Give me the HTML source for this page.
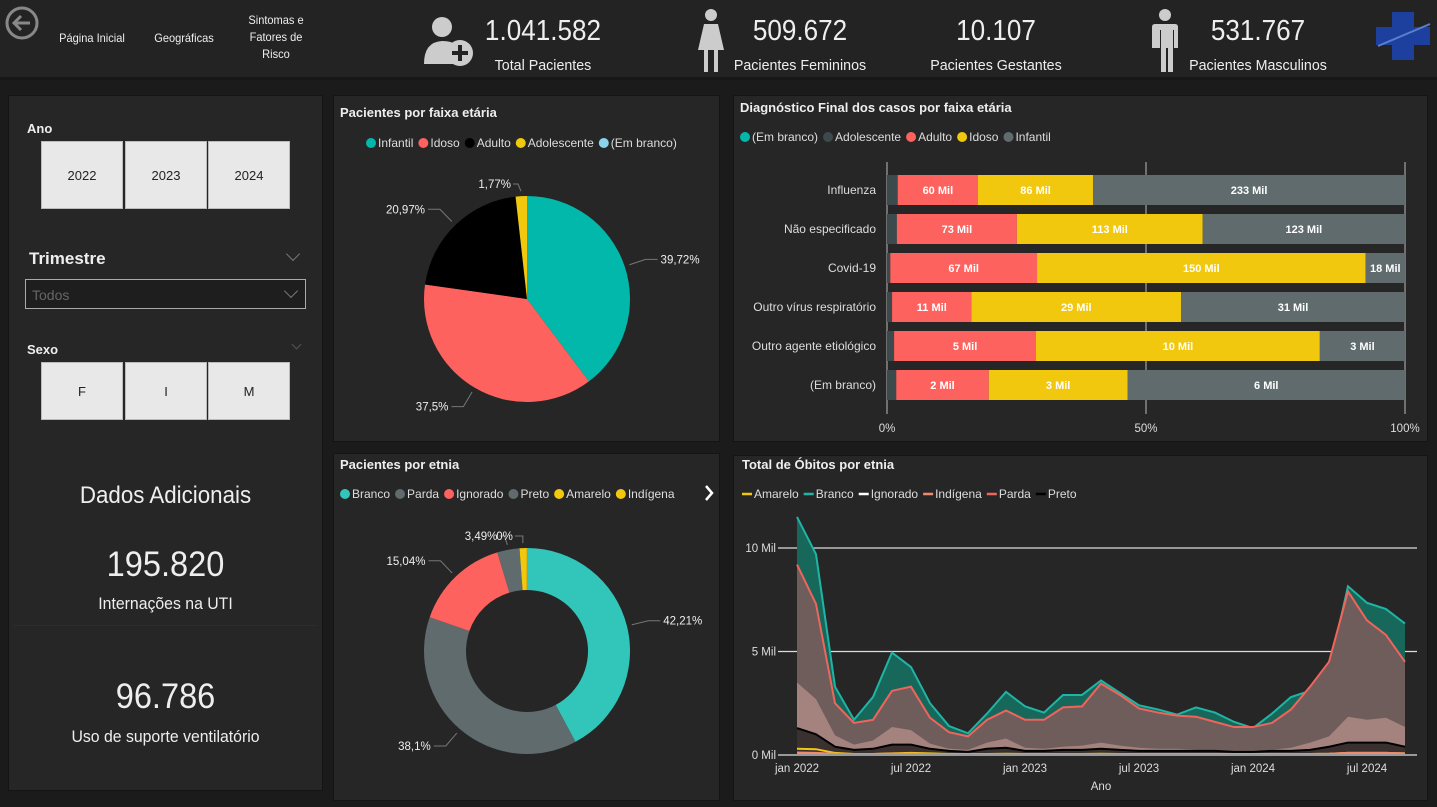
<!DOCTYPE html>
<html><head><meta charset="utf-8">
<style>
*{box-sizing:border-box;margin:0;padding:0}
body{width:1437px;height:807px;background:#1b1b1b;font-family:"Liberation Sans Narrow","Liberation Sans",sans-serif;color:#fff;position:relative;overflow:hidden}
.abs{position:absolute}
.panel{position:absolute;background:#262626;border:1px solid #141414}
.title{position:absolute;font-family:"Liberation Sans",sans-serif;font-weight:bold;font-size:13px;color:#eee}
.btn{position:absolute;background:#e8e8e8;color:#222;font-family:"Liberation Sans",sans-serif;font-size:13px;display:flex;align-items:center;justify-content:center;border:1px solid #bbb}
.kv{position:absolute;text-align:center;font-size:29px;color:#eee;transform:scaleX(0.9)}
.kl{position:absolute;text-align:center;font-size:15px;color:#eee;transform:scaleX(0.95)}
.nav{position:absolute;font-size:12px;color:#eee;text-align:center;line-height:17px;transform:scaleX(0.92)}
.sq{transform:scaleX(0.93)}
</style></head><body>
<div class="abs" style="left:0;top:0;width:1437px;height:80px;background:#232323;border-bottom:3px solid #171717"></div>
<svg class="abs" style="left:4px;top:5px" width="36" height="36"><circle cx="18" cy="18" r="15" fill="none" stroke="#888" stroke-width="3"/><path d="M26 18H11M17 11l-7 7 7 7" fill="none" stroke="#888" stroke-width="3"/></svg>
<div class="nav" style="left:52px;top:30px;width:80px">Página Inicial</div>
<div class="nav" style="left:145px;top:30px;width:78px">Geográficas</div>
<div class="nav" style="left:236px;top:12px;width:80px">Sintomas e Fatores de Risco</div>
<svg class="abs" style="left:422px;top:14px" width="52" height="54"><circle cx="20" cy="13" r="10" fill="#ccc"/><path d="M2 50 Q2 28 20 27 Q32 27 36 33 L36 50Z" fill="#ccc"/><circle cx="38" cy="39" r="13" fill="#ccc"/><path d="M38 31v16M30 39h16" stroke="#232323" stroke-width="4"/></svg>
<div class="kv" style="left:463px;top:15px;width:160px">1.041.582</div>
<div class="kl" style="left:463px;top:57px;width:160px">Total Pacientes</div>
<svg class="abs" style="left:696px;top:8px" width="30" height="66"><circle cx="15" cy="7" r="6" fill="#ccc"/><path d="M8 16h14l6 26h-6l0 22h-4v-22h-6v22h-4v-22H2Z" fill="#ccc"/></svg>
<div class="kv" style="left:720px;top:15px;width:160px">509.672</div>
<div class="kl" style="left:720px;top:57px;width:160px">Pacientes Femininos</div>
<div class="kv" style="left:916px;top:15px;width:160px">10.107</div>
<div class="kl" style="left:916px;top:57px;width:160px">Pacientes Gestantes</div>
<svg class="abs" style="left:1150px;top:8px" width="30" height="66"><circle cx="15" cy="7" r="6" fill="#ccc"/><path d="M5 16h20q3 0 3 3v21h-4v-18h-1v42h-5v-24h-2v24h-5v-42h-1v18H2V19q0-3 3-3Z" fill="#ccc"/></svg>
<div class="kv" style="left:1178px;top:15px;width:160px">531.767</div>
<div class="kl" style="left:1178px;top:57px;width:160px">Pacientes Masculinos</div>
<svg class="abs" style="left:1374px;top:10px" width="58" height="52"><path d="M18 2h22v15h16v18H40v15H18V35H2V17h16Z" fill="#1d3f9e"/><path d="M4 36 L56 14" stroke="#5a7fd0" stroke-width="2"/></svg>

<div class="panel" style="left:8px;top:95px;width:315px;height:696px"></div>
<div class="title" style="left:27px;top:121px">Ano</div>
<div class="btn" style="left:41px;top:141px;width:82px;height:68px">2022</div>
<div class="btn" style="left:125px;top:141px;width:82px;height:68px">2023</div>
<div class="btn" style="left:208px;top:141px;width:82px;height:68px">2024</div>
<div class="abs" style="left:29px;top:249px;font-family:'Liberation Sans',sans-serif;font-weight:bold;font-size:17px;color:#eee">Trimestre</div>
<div class="abs" style="left:288px;top:249px;width:10px;height:10px;border-right:1px solid #777;border-bottom:1px solid #777;transform:rotate(45deg)"></div>
<div class="abs" style="left:25px;top:279px;width:281px;height:30px;border:1px solid #aaa;background:#1e1e1e;font-family:'Liberation Sans',sans-serif;font-size:14px;color:#666;padding:7px 6px">Todos</div>
<div class="abs" style="left:286px;top:286px;width:10px;height:10px;border-right:1px solid #777;border-bottom:1px solid #777;transform:rotate(45deg)"></div>
<div class="title" style="left:27px;top:342px">Sexo</div>
<div class="abs" style="left:293px;top:341px;width:7px;height:7px;border-right:1px solid #555;border-bottom:1px solid #555;transform:rotate(45deg)"></div>
<div class="btn" style="left:41px;top:362px;width:82px;height:58px">F</div>
<div class="btn" style="left:125px;top:362px;width:82px;height:58px">I</div>
<div class="btn" style="left:208px;top:362px;width:82px;height:58px">M</div>
<div class="abs sq" style="left:10px;top:482px;width:311px;text-align:center;font-size:24px;color:#eee">Dados Adicionais</div>
<div class="abs sq" style="left:10px;top:545px;width:311px;text-align:center;font-size:35px;color:#eee">195.820</div>
<div class="abs sq" style="left:10px;top:594px;width:311px;text-align:center;font-size:17px;color:#eee">Internações na UTI</div>
<div class="abs" style="left:14px;top:625px;width:303px;height:1px;background:#2d2d2d"></div>
<div class="abs sq" style="left:10px;top:677px;width:311px;text-align:center;font-size:35px;color:#eee">96.786</div>
<div class="abs sq" style="left:10px;top:727px;width:311px;text-align:center;font-size:17px;color:#eee">Uso de suporte ventilatório</div>

<div class="panel" style="left:333px;top:95px;width:387px;height:347px"></div>
<div class="title" style="left:340px;top:105px">Pacientes por faixa etária</div>
<div class="panel" style="left:333px;top:453px;width:387px;height:348px"></div>
<div class="title" style="left:340px;top:457px">Pacientes por etnia</div>
<div class="panel" style="left:733px;top:95px;width:695px;height:347px"></div>
<div class="title" style="left:740px;top:100px">Diagnóstico Final dos casos por faixa etária</div>
<div class="panel" style="left:733px;top:455px;width:695px;height:346px"></div>
<div class="title" style="left:742px;top:457px">Total de Óbitos por etnia</div>

<svg id="chart" class="abs" style="left:0;top:0" width="1437" height="807"></svg>

<script>
const pieCats=["Infantil","Idoso","Adulto","Adolescente","(Em branco)"];
const pieVals=[39.72,37.5,20.97,1.77,0];
const pieLabels=["39,72%","37,5%","20,97%","1,77%",""];
const donutCats=["Branco","Parda","Ignorado","Preto","Amarelo","Indígena"];
const donutVals=[42.21,38.1,15.04,3.49,1.1,0.06];
const donutLabels=["42,21%","38,1%","15,04%","3,49%","0%",""];
const barCats=["Influenza","Não especificado","Covid-19","Outro vírus respiratório","Outro agente etiológico","(Em branco)"];
const barAdol=[8,6,1.5,0.7,0.25,0.2];
const barAdulto=[60,73,67,11,5,2];
const barIdoso=[86,113,150,29,10,3];
const barInfantil=[233,123,18,31,3,6];
const barTicks=["0%","50%","100%"];
const months=["jan 2022","fev","mar","abr","mai","jun","jul 2022","ago","set","out","nov","dez","jan 2023","fev","mar","abr","mai","jun","jul 2023","ago","set","out","nov","dez","jan 2024","fev","mar","abr","mai","jun","jul 2024","ago","set"];
const branco=[11.5,9.7,3.3,1.7,2.8,4.95,4.25,2.5,1.4,1.05,2.0,3.05,2.35,2.05,2.9,2.9,3.6,3.0,2.4,2.2,1.95,2.3,2.05,1.6,1.3,2.0,2.8,3.1,4.1,8.15,7.35,7.05,6.35];
const parda=[9.2,7.3,2.5,1.55,1.7,3.1,3.3,1.8,1.1,0.9,1.7,2.15,1.7,1.7,2.3,2.35,3.45,2.9,2.25,2.05,1.9,1.85,1.6,1.35,1.35,1.55,2.2,3.3,4.5,7.9,6.5,5.8,4.5];
const ignorado=[3.5,2.7,0.95,0.5,0.7,1.35,1.2,0.55,0.3,0.25,0.6,0.8,0.35,0.3,0.4,0.45,0.6,0.45,0.35,0.3,0.3,0.25,0.2,0.15,0.2,0.25,0.35,0.6,0.9,1.85,1.7,1.8,1.35];
const preto=[1.3,1.0,0.4,0.25,0.3,0.5,0.5,0.3,0.2,0.15,0.3,0.35,0.2,0.2,0.25,0.25,0.3,0.25,0.2,0.2,0.2,0.2,0.2,0.15,0.15,0.2,0.2,0.25,0.4,0.6,0.6,0.6,0.4];
const amarelo=[0.3,0.28,0.1,0.05,0.05,0.08,0.1,0.08,0.05,0.05,0.05,0.06,0.05,0.05,0.05,0.05,0.06,0.05,0.05,0.05,0.05,0.05,0.05,0.05,0.05,0.05,0.05,0.05,0.06,0.1,0.1,0.1,0.08];
const indigena=[0.12,0.1,0.06,0.05,0.05,0.06,0.06,0.05,0.04,0.04,0.05,0.05,0.04,0.04,0.05,0.05,0.05,0.05,0.04,0.04,0.04,0.04,0.04,0.04,0.04,0.04,0.05,0.05,0.06,0.1,0.1,0.1,0.08];
const areaTicks=[0,5,10];
const areaTickLabels=["0 Mil","5 Mil","10 Mil"];

const svg=document.getElementById('chart');
const NS="http://www.w3.org/2000/svg";
function mk(tag,attrs,parent){const e=document.createElementNS(NS,tag);for(const k in attrs)e.setAttribute(k,attrs[k]);(parent||svg).appendChild(e);return e;}
function txt(x,y,s,size,fill,anchor,weight){const t=mk('text',{x:x,y:y,'font-size':size,fill:fill,'text-anchor':anchor||'start','font-family':'"Liberation Sans Narrow","Liberation Sans",sans-serif','font-weight':weight||'normal'});t.textContent=s;return t;}
function legend(x,y,items,colors,name,size){let cx=x;items.forEach((it,i)=>{const c=mk('circle',{cx:cx+5,cy:y-4,r:5,fill:colors[i]});


const t=txt(cx+12,y,it,size||12,'#ddd');


cx+=12+t.getComputedTextLength()+5;});}

const pieColors=["#01b8aa","#fd625e","#000000","#f2c80f","#8ad4eb"];
legend(366,147,pieCats,pieColors,'age-legend',12);
function arc(cx,cy,r,ri,a0,a1){const p=(a,rr)=>[cx+rr*Math.sin(a),cy-rr*Math.cos(a)];const lg=(a1-a0)>Math.PI?1:0;const [x0,y0]=p(a0,r),[x1,y1]=p(a1,r);
if(ri<=0)return `M${cx} ${cy}L${x0} ${y0}A${r} ${r} 0 ${lg} 1 ${x1} ${y1}Z`;
const [x2,y2]=p(a1,ri),[x3,y3]=p(a0,ri);return `M${x0} ${y0}A${r} ${r} 0 ${lg} 1 ${x1} ${y1}L${x2} ${y2}A${ri} ${ri} 0 ${lg} 0 ${x3} ${y3}Z`;}
function drawPie(cx,cy,r,ri,vals,colors,labels,name){const tot=vals.reduce((a,b)=>a+b,0);let a=0;let small=0;
vals.forEach((v,i)=>{if(v<=0)return;const a1=a+v/tot*2*Math.PI;const p=mk('path',{d:arc(cx,cy,r,ri,a,a1),fill:colors[i]});


if(labels[i]){const m=(a+a1)/2;const ex=cx+(r+5)*Math.sin(m),ey=cy-(r+5)*Math.cos(m);const right=Math.sin(m)>=0;
let lx=cx+(r+22)*Math.sin(m);let ly=cy-(r+22)*Math.cos(m);let hx=right?lx+12:lx-12;let tx=right?hx+3:hx-3;let anc=right?'start':'end';
if(v/tot<0.05){ly=cy-r-12;
 if(small===0){lx=ex-3;hx=lx-5;tx=hx-2;}
 else{lx=ex;hx=lx-8;tx=hx-2;}
 small++;}
mk('polyline',{points:`${ex},${ey} ${lx},${ly} ${hx},${ly}`,fill:'none',stroke:'#777','stroke-width':1});
const t=txt(tx,ly+4,labels[i],11.5,'#eee',anc);

}
a=a1;});}
drawPie(527,299,103,0,pieVals,pieColors,pieLabels,'age-pie');

const donutColors=["#32c5b9","#5f6b6d","#fd625e","#5f6b6d","#f2c80f","#f2c80f"];
legend(340,498,donutCats,donutColors,'ethnicity-legend',12);
const arr=mk('path',{d:'M706 486l6 7-6 7',fill:'none',stroke:'#fff','stroke-width':2.5});


drawPie(527,651,103,61,donutVals,donutColors,donutLabels,'ethnicity-donut');

const barColors=["#3c4a4e","#fd625e","#f2c80f","#5f6b6d"];
legend(740,141,["(Em branco)","Adolescente","Adulto","Idoso","Infantil"],["#01b8aa","#3c4a4e","#fd625e","#f2c80f","#5f6b6d"],'diagnosis-legend',12);
const bx0=887,bx1=1405;const bxs=p=>bx0+p*(bx1-bx0);
[0,0.5,1].forEach((p,i)=>{mk('line',{x1:bxs(p),x2:bxs(p),y1:162,y2:414,stroke:'#bbb','stroke-width':1});
const t=txt(bxs(p),432,barTicks[i],11.5,'#ddd','middle');

});
barCats.forEach((c,i)=>{const cy=190+i*39;const segs=[barAdol[i],barAdulto[i],barIdoso[i],barInfantil[i]];const tot=segs.reduce((a,b)=>a+b,0);let acc=0;
const lt=txt(876,cy+4,c,12,'#ddd','end');


segs.forEach((v,j)=>{const x=bxs(acc/tot),w=bxs((acc+v)/tot)-x;const r=mk('rect',{x:x,y:cy-15,width:w,height:30,fill:barColors[j]});


if(j>0){const t=txt(x+w/2,cy+4,Math.round(v)+' Mil',11,'#fff','middle','bold');

}
acc+=v;});});

const lgItems=["Amarelo","Branco","Ignorado","Indígena","Parda","Preto"];const lgCols=["#f2c80f","#1fb5a5","#ffffff","#f08a6c","#f0645c","#000"];
let lx=742;lgItems.forEach((it,i)=>{const l=mk('line',{x1:lx,x2:lx+10,y1:494,y2:494,stroke:lgCols[i],'stroke-width':2.5});


const t=txt(lx+12,498,it,12,'#ddd');


lx+=12+t.getComputedTextLength()+5;});
const ax=i=>797+i*(1405-797)/(months.length-1);const ay=v=>755-v*20.7;
areaTicks.forEach((v,i)=>{if(v>0)mk('line',{x1:778,x2:1417,y1:ay(v),y2:ay(v),stroke:'#ddd','stroke-width':1.2});
const t=txt(776,ay(v)+4,areaTickLabels[i],11.5,'#ddd','end');

});
function area(vals,fill,stroke,name,op){const pts=vals.map((v,i)=>ax(i)+','+ay(v)).join(' ');
if(fill){const a=mk('polygon',{points:`${ax(0)},${ay(0)} ${pts} ${ax(vals.length-1)},${ay(0)}`,fill:fill,'fill-opacity':op||1});

}
const l=mk('polyline',{points:pts,fill:'none',stroke:stroke,'stroke-width':2});

}
area(branco,'#17675b','#1fb5a5','branco');
area(parda,'#6f5d5b','#f0645c','parda');
area(ignorado,'#a4827e',null,'ignorado');
area(preto,'#3b3030','#000','preto');
area(amarelo,null,'#f2c80f','amarelo');
area(indigena,'#f08a6c','#f08a6c','indigena');
mk('line',{x1:778,x2:1417,y1:755,y2:755,stroke:'#999','stroke-width':2});
[0,6,12,18,24,30].forEach(i=>{const t=txt(ax(i),772,months[i],11.5,'#ddd','middle');

});
const at=txt(1101,790,'Ano',11.5,'#ddd','middle');


</script>
</body></html>
